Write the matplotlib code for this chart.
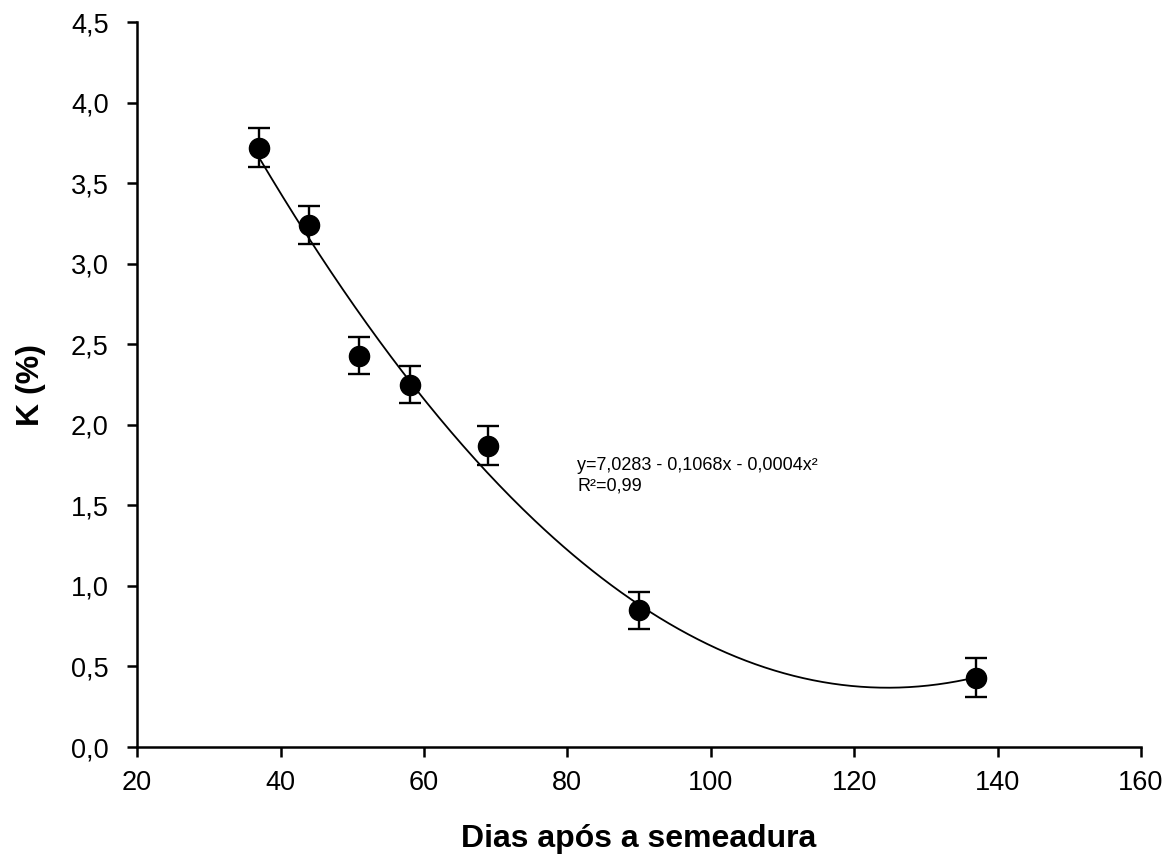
import numpy as np
import matplotlib
matplotlib.use("Agg")
import matplotlib.pyplot as plt

plt.rcParams['font.family'] = ['Liberation Sans', 'DejaVu Sans']

# dias apos a semeadura e teor de K (%)
dias = [37, 44, 51, 58, 69, 90, 137]
k_pct = [3.72, 3.24, 2.43, 2.25, 1.87, 0.85, 0.43]
erro = [0.12, 0.115, 0.115, 0.115, 0.12, 0.115, 0.12]

equacao = "y=7,0283 - 0,1068x - 0,0004x²\nR²=0,99"

# ajuste quadratico
coef = np.polyfit(dias, k_pct, 2)
xs = np.linspace(min(dias), max(dias), 300)
ys = np.polyval(coef, xs)

fig = plt.figure(figsize=(11.72, 8.64), dpi=100)
ax = fig.add_axes([0.117, 0.1354, 0.8565, 0.8391])

ax.plot(xs, ys, color='black', lw=1.3)
ax.errorbar(dias, k_pct, yerr=erro, fmt='o', color='black', ms=14.5,
            elinewidth=1.7, capsize=8, capthick=1.7)

ax.text(81.4, 1.80, equacao, fontsize=13, va='top', ha='left', linespacing=1.25)

ax.set_xlim(20, 160)
ax.set_ylim(0, 4.5)
ax.set_xticks(range(20, 161, 20))
ax.set_yticks(np.arange(0, 4.51, 0.5))
ax.set_yticklabels([f"{v:.1f}".replace('.', ',') for v in np.arange(0, 4.51, 0.5)])

for s in ['top', 'right']:
    ax.spines[s].set_visible(False)
for s in ['left', 'bottom']:
    ax.spines[s].set_linewidth(1.8)
ax.tick_params(direction='out', length=7.5, width=1.8, labelsize=19.5)
ax.tick_params(axis='x', pad=9)
ax.tick_params(axis='y', pad=13)

ax.set_xlabel('Dias após a semeadura', fontsize=23, fontweight='bold', labelpad=20)
ax.set_ylabel('K (%)', fontsize=23, fontweight='bold', labelpad=18)

fig.savefig('out.png', dpi=100)
